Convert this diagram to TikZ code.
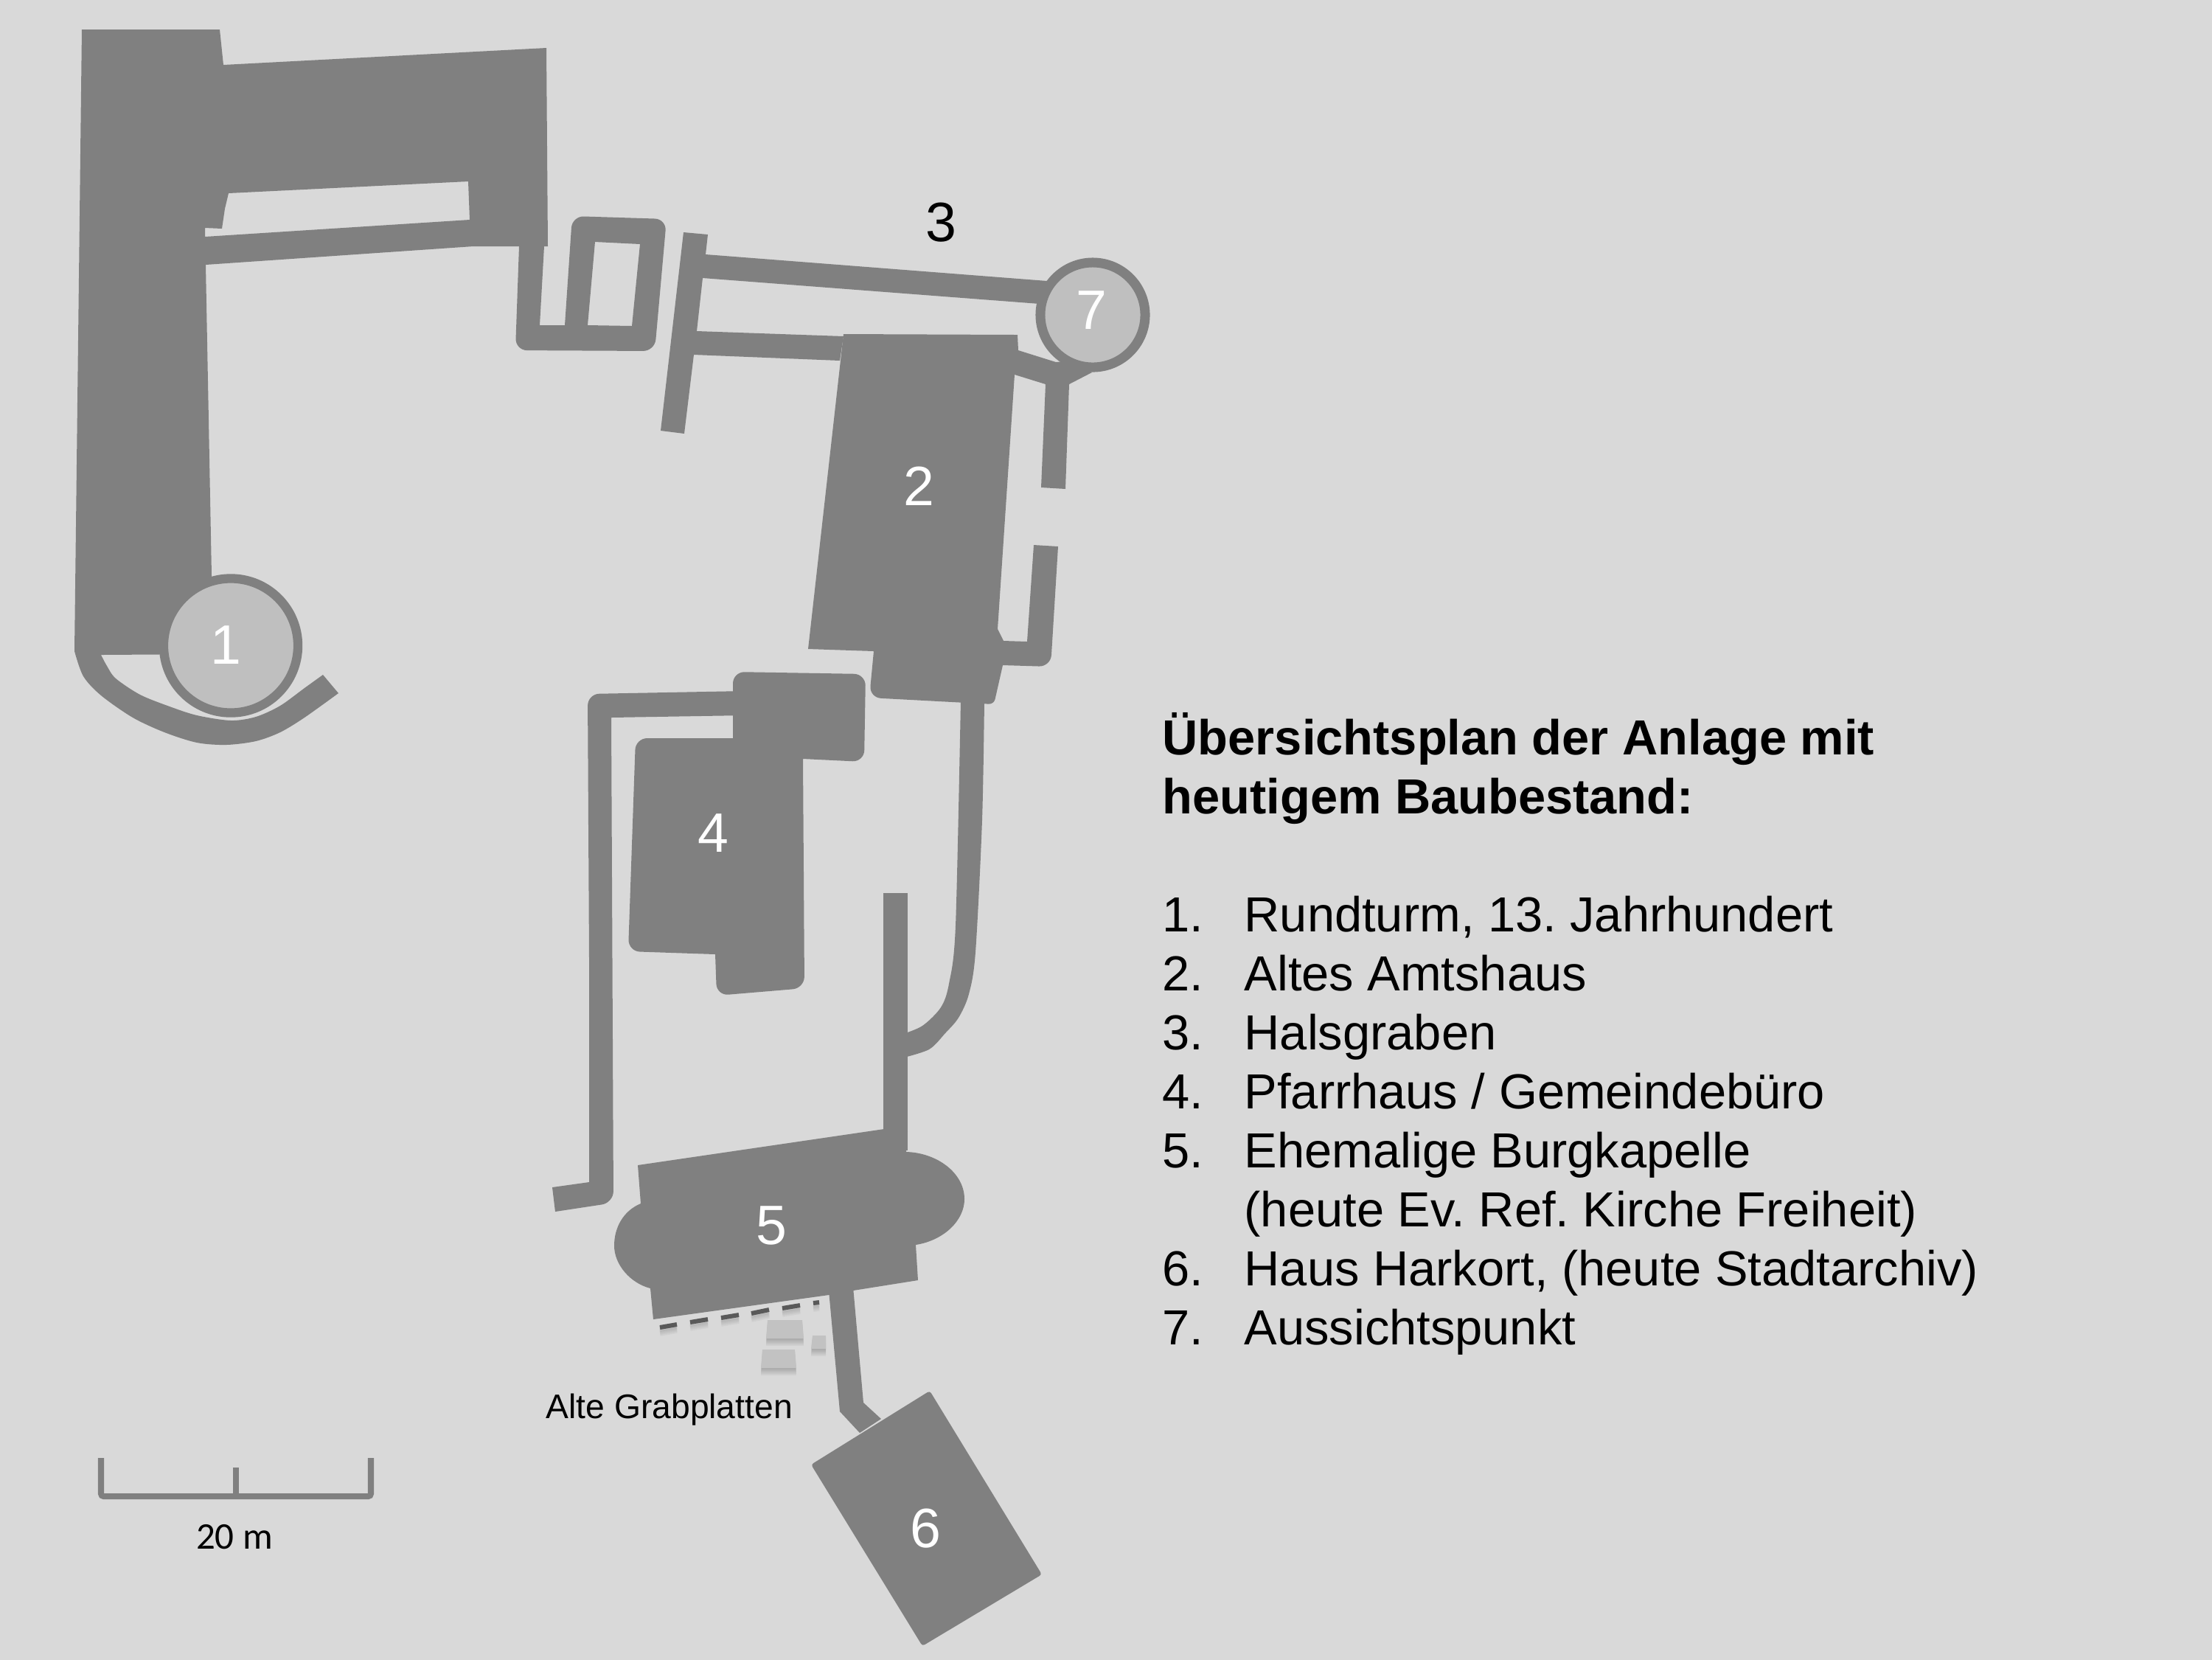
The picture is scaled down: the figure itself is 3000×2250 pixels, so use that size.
\documentclass[tikz,border=0pt]{standalone}
\usepackage{fontspec}
\setmainfont{Liberation Sans}
\newfontfamily\scalefont{Carlito}
\definecolor{planbg}{HTML}{D9D9D9}
\definecolor{wallgray}{HTML}{808080}
\definecolor{towergray}{HTML}{BFBFBF}
\definecolor{dashgray}{HTML}{595959}
\definecolor{slabgray}{HTML}{C2C2C2}
\frenchspacing
\tikzset{
	wall/.style={fill=wallgray},
	tower/.style={circle, draw=wallgray, fill=towergray, inner sep=0pt},
	plannum/.style={anchor=base, inner sep=0pt, text=white, font=\fontsize{21.4}{26}\selectfont},
	listtext/.style={anchor=base west, inner sep=0pt, font=\fontsize{19}{23}\selectfont},
	titletext/.style={anchor=base west, inner sep=0pt, font=\fontsize{19}{23}\selectfont\bfseries},
}
\begin{document}
\begin{tikzpicture}[x=.01cm, y=-.01cm]
	\useasboundingbox (0,0) rectangle (3000,2250);
	\fill[planbg] (-10,-10) rectangle (3010,2260);
	%castle block with moat
	\fill[wall, even odd rule] (111,40) -- (298,40) -- (303,88) -- (741,65) -- (743,334) -- (642,334)
	-- (279,359) -- (287,780) -- (287,887) -- (137,888)
	-- plot[smooth] coordinates{(137,888) (145,903) (157,920) (190,942) (230,958) (267,970)
		(313,977) (347,972) (380,957) (413,933) (438,915)}
	-- plot[smooth] coordinates{(459,940) (413,973) (380,993) (347,1005) (307,1010) (267,1007)
		(223,993) (180,973) (137,943) (113,917) (101,883)}
	-- cycle
	(310,262) -- (635,246) -- (637,298) -- (278,321) -- (278,309) -- (301,310) -- (305,283) -- cycle;
	%gate
	\fill[wall, even odd rule] (704,334) [rounded corners=4.5pt] -- (699,475) -- (888,476) -- (904,297)
	-- (776,293) [sharp corners] -- (766,441) -- (732,441) -- (738,334) -- cycle
	(807,328) -- (868,331) -- (857,442) -- (797,441) -- cycle;
	%ditch walls
	\fill[wall] (927,315) -- (960,318) -- (957,345) -- (1420,381) -- (1410,412) -- (953,377)
	-- (945,449) -- (1144,456) -- (1139,489) -- (941,481) -- (928,588) -- (896,584) -- cycle;
	%Amtshaus
	\fill[wall] (1144,453) -- (1380,454) -- (1381,475) -- (1432,491) -- (1445,490) -- (1481,505)
	-- (1450,521) -- (1445,663) -- (1412,661) -- (1418,521) -- (1376,508) -- (1353,853) -- (1361,869)
	-- (1393,870) -- (1402,739) -- (1435,741) [rounded corners=4.5pt] -- (1425,904) [sharp corners]
	-- (1360,902) [rounded corners=2pt] -- (1348,955) [rounded corners=4.5pt] -- (1179,946) [sharp corners]
	-- (1185,883) -- (1096,880) -- cycle;
	%long wall
	\fill[wall] plot[smooth] coordinates{(1335,950) (1332,1112) (1323,1291) (1314,1348) (1300,1380)
		(1282,1401) (1260,1423) (1222,1435)}
	-- plot[smooth] coordinates{(1222,1403) (1251,1391) (1276,1366) (1287,1334) (1296,1255) (1303,950)}
	-- cycle;
	\fill[wall] (1198,1211) rectangle (1231,1560);
	%Pfarrhaus
	\fill[wall] (749,1610) -- (799,1603) -- (799,1300) [rounded corners=4.5pt] -- (797,941) -- (1010,937)
	[sharp corners] -- (1010,970) -- (829,973) [rounded corners=4.5pt] -- (832,1631) [sharp corners]
	-- (753,1643) -- cycle;
	\fill[wall] (994,1001) [rounded corners=4.5pt] -- (994,911) -- (1174,914) -- (1172,1033) [sharp corners]
	-- (1089,1029) [rounded corners=4.5pt] -- (1091,1340) -- (972,1350) [sharp corners] -- (970,1294)
	[rounded corners=4.5pt] -- (852,1290) -- (862,1001) [sharp corners] -- cycle;
	%Burgkapelle
	\fill[wall] (1199,1531) -- (865,1580) -- (869,1632) .. controls (845,1642) and (833,1665) .. (833,1689)
	.. controls (833,1715) and (855,1740) .. (882,1747) -- (886,1789) -- (1124,1756) -- (1157,1750)
	-- (1245,1736) -- (1242,1688) .. controls (1280,1682) and (1308,1655) .. (1308,1626)
	.. controls (1308,1590) and (1270,1563) .. (1229,1562) -- (1231,1534) -- cycle;
	%Haus Harkort
	\fill[wall] (1124,1750) -- (1139,1914) -- (1166,1943) -- (1195,1924) -- (1171,1902) -- (1157,1745) -- cycle;
	\fill[wall, rounded corners=1pt] (1100,1986) -- (1251,2232) -- (1413,2135) -- (1261,1886) -- cycle;
	%Grabplatten
	\foreach \a/\b/\c/\e/\h in {
		1041/1790/1088/1090/25,
		1034/1830/1078/1080/25,
		1102/1811/1120/1120/18
	}
	{
		\foreach \s in {2,4,...,10}
		\fill[black, opacity=.045] (\a,\b+\s) -- (\c,\b+\s) -- (\e,\b+\s+\h) -- (\a-2,\b+\s+\h) -- cycle;
		\fill[slabgray] (\a,\b) -- (\c,\b) -- (\e,\b+\h) -- (\a-2,\b+\h) -- cycle;
	}
	\foreach \a/\b/\c/\d in {
		895/1800/918/1796,
		936/1793/960/1789,
		978/1787/1002/1783,
		1019/1781/1043/1776,
		1061/1774/1085/1770,
		1103/1767/1111/1766
	}
	{
		\foreach \s in {2,4,...,8}
		\draw[black, opacity=.04, line width=2.2pt] (\a,\b+\s) -- (\c,\d+\s);
		\draw[dashgray, line width=1.7pt] (\a,\b) -- (\c,\d);
	}
	%towers
	\node[tower, line width=3.5pt, minimum size=1.82cm] (rundturm) at (313,875.5) {};
	\node[tower, line width=3.7pt, minimum size=1.42cm] (aussicht) at (1482,427) {};
	%scale
	\draw[wallgray, line width=2.28pt, rounded corners=1pt] (137,1977) -- (137,2029)
	-- (503,2029) -- (503,1977);
	\draw[wallgray, line width=2.28pt] (320,1990) -- (320,2029);
	\node[inner sep=0pt, anchor=base, font=\scalefont\fontsize{14.5}{18}\selectfont] (scalelabel) at (318,2100) {20 m};
	%numbers
	\node[plannum] (num1) at (306,900) {1};
	\node[plannum] (num2) at (1246,685) {2};
	\node[plannum, text=black] (num3) at (1276,327) {3};
	\node[plannum] (num4) at (967,1155) {4};
	\node[plannum] (num5) at (1046,1687) {5};
	\node[plannum] (num6) at (1255,2098) {6};
	\node[plannum] (num7) at (1480,446) {7};
	\node[inner sep=0pt, anchor=base west, font=\fontsize{13.15}{16}\selectfont] (grablabel) at (740,1923) {Alte Grabplatten};
	%legend
	\node[titletext] (title1) at (1576,1023) {Übersichtsplan der Anlage mit};
	\node[titletext] (title2) at (1576,1103) {heutigem Baubestand:};
	\foreach \n/\y/\itemtext in {
		1/1263/{Rundturm, 13. Jahrhundert},
		2/1343/{Altes Amtshaus},
		3/1423/{Halsgraben},
		4/1503/{Pfarrhaus / Gemeindebüro},
		5/1583/{Ehemalige Burgkapelle},
		6/1743/{Haus Harkort, (heute Stadtarchiv)},
		7/1823/{Aussichtspunkt}
	}
	{
		\node[listtext] (nr\n) at (1576,\y) {\n.};
		\node[listtext] (item\n) at (1687,\y) {\itemtext};
	}
	\node[listtext] (item5b) at (1687,1663) {(heute Ev. Ref. Kirche Freiheit)};
\end{tikzpicture}
\end{document}
